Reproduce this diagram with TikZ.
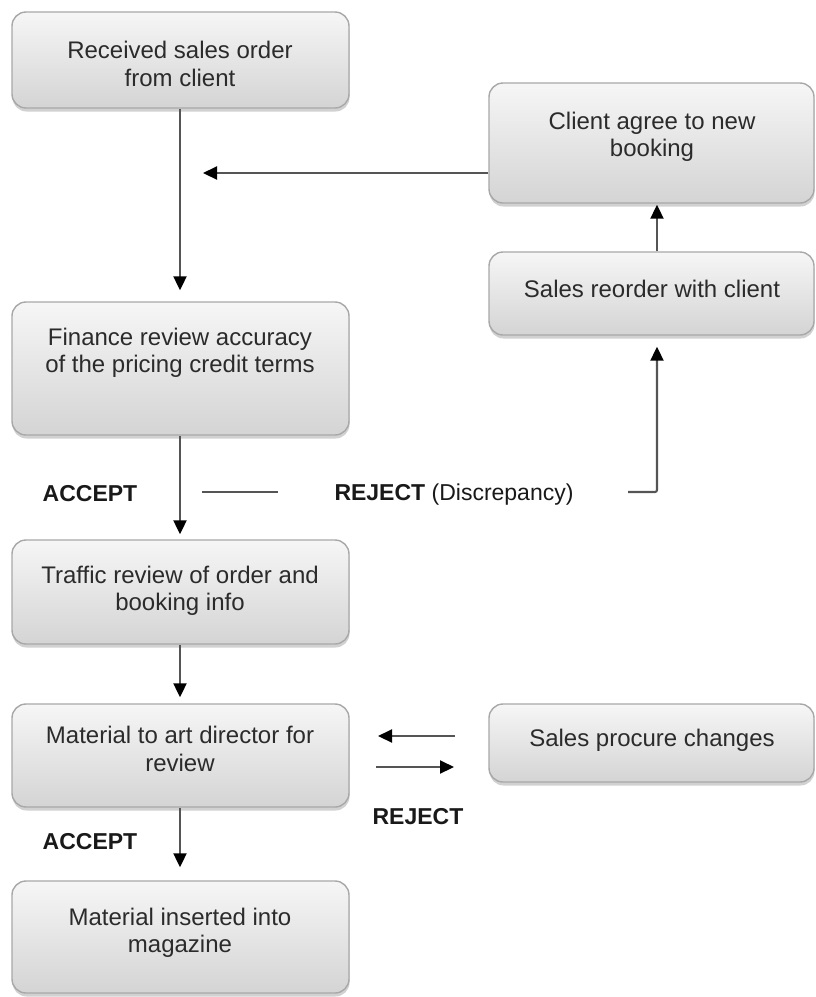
\documentclass[tikz,border=0pt]{standalone}
\usepackage{fontspec}
\setmainfont{Liberation Sans}
\usetikzlibrary{arrows.meta,shadows}
\definecolor{boxtop}{HTML}{F6F6F6}
\definecolor{boxbot}{HTML}{D4D4D4}
\definecolor{boxline}{HTML}{A8A8A8}
\definecolor{txtcol}{HTML}{2B2B2B}
\definecolor{linecol}{HTML}{555555}
\tikzset{
  box/.style={rectangle, rounded corners=14pt, draw=boxline, line width=1.4pt,
    top color=boxtop, bottom color=boxbot, inner sep=0pt,
    drop shadow={shadow xshift=0.5pt, shadow yshift=-3.5pt, opacity=0.4, fill=black!45}},
  wbox/.style={box, minimum width=337pt},
  rbox/.style={box, minimum width=325pt},
  txt/.style={align=center, text=txtcol, font=\fontsize{24}{27.5}\selectfont, inner sep=0pt},
  lbl/.style={text=black!90, font=\fontsize{23}{26}\selectfont, inner sep=0pt},
  arr/.style={draw=linecol, line width=2.1pt, -{Triangle[length=14pt,width=13pt,fill=black,color=black]}},
  ln/.style={draw=linecol, line width=2.1pt}
}
\begin{document}
\begin{tikzpicture}[x=1pt,y=-1pt]
\useasboundingbox (0,0) rectangle (816,997);
% boxes
\node[wbox, minimum height=96pt]  (b1) at (180.5,60) {};
\node[rbox, minimum height=120pt] (b2) at (651.5,143) {};
\node[rbox, minimum height=83pt]  (b3) at (651.5,293.5) {};
\node[wbox, minimum height=133pt] (b4) at (180.5,368.5) {};
\node[wbox, minimum height=104pt] (b5) at (180.5,592) {};
\node[wbox, minimum height=103pt] (b6) at (180.5,755.5) {};
\node[rbox, minimum height=78pt]  (b7) at (651.5,743) {};
\node[wbox, minimum height=112pt] (b8) at (180.5,937) {};
% texts
\node[txt] (t1) at (180,64)  {Received sales order\\from client};
\node[txt] (t2) at (652,137) {Client agree to new\\booking};
\node[txt] (t3) at (652,289) {Sales reorder with client};
\node[txt] (t4) at (180,353) {Finance review accuracy\\of the pricing credit terms};
\node[txt] (t5) at (180,591) {Traffic review of order and\\booking info};
\node[txt] (t6) at (180,749) {Material to art director for\\review};
\node[txt] (t7) at (652,740) {Sales procure changes};
\node[txt] (t8) at (180,933) {Material inserted into\\magazine};
% labels
\node[lbl] (acc1) at (90,494) {\textbf{ACCEPT}};
\node[lbl] (rej1) at (454,495) {\textbf{REJECT} (Discrepancy)};
\node[lbl] (acc2) at (90,842) {\textbf{ACCEPT}};
\node[lbl] (rej2) at (418,817) {\textbf{REJECT}};
% coordinates
\coordinate (back) at (203,173);
\coordinate (r1) at (202,492);
\coordinate (r2) at (278,492);
\coordinate (r3) at (628,492);
\coordinate (r4) at (657,492);
\coordinate (l1) at (455,736);
\coordinate (l2) at (378,736);
\coordinate (m1) at (376,767);
\coordinate (m2) at (454,767);
% connectors
\draw[arr, shorten >=11pt] (b1.south -| 180,0) -- (b4.north -| 180,0);
\draw[arr] (b2.west |- back) -- (back);
\draw[arr, shorten >=1pt] (b3.north -| 657,0) -- (b2.south -| 657,0);
\draw[arr, shorten >=5pt] (b4.south -| 180,0) -- (b5.north -| 180,0);
\draw[ln] (r1) -- (r2);
\draw[arr, shorten >=11pt, rounded corners=2pt] (r3) -- (r4) -- (b3.south -| r4);
\draw[arr, shorten >=6pt] (b5.south -| 180,0) -- (b6.north -| 180,0);
\draw[arr] (l1) -- (l2);
\draw[arr] (m1) -- (m2);
\draw[arr, shorten >=13pt] (b6.south -| 180,0) -- (b8.north -| 180,0);
\end{tikzpicture}
\end{document}
